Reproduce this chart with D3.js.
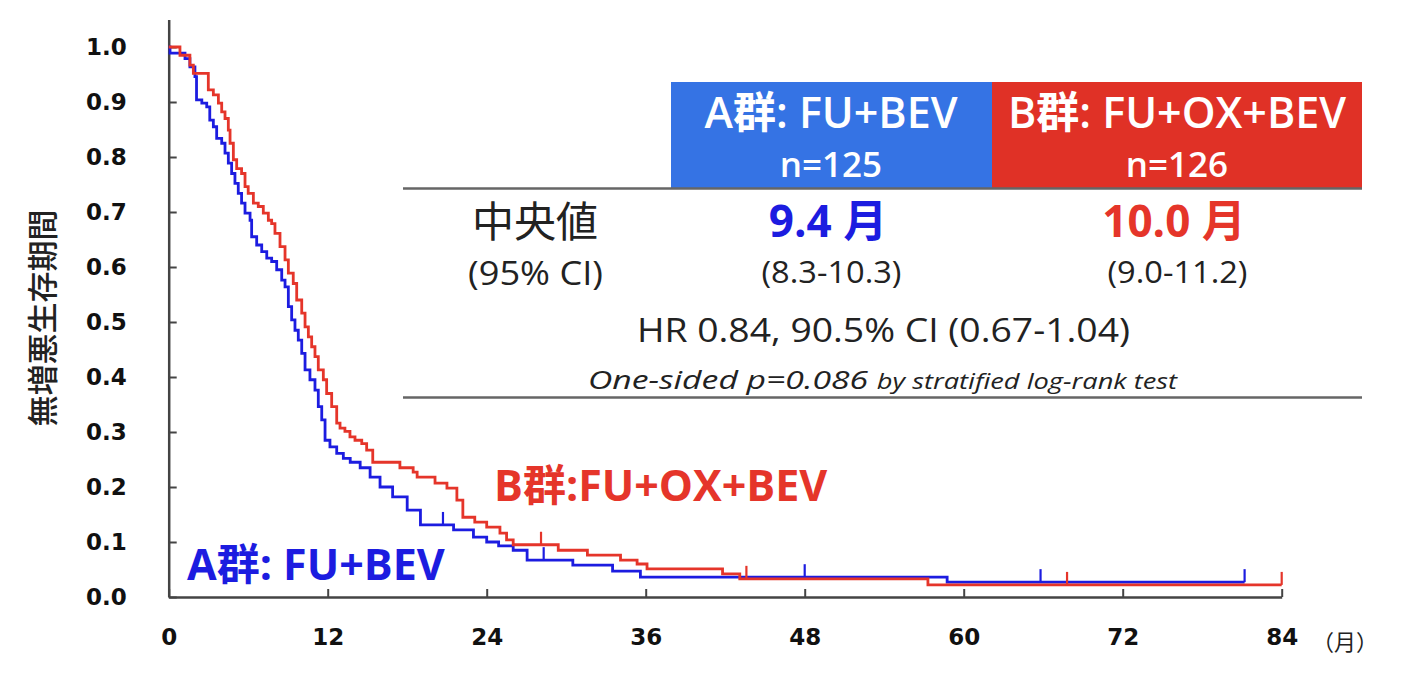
<!DOCTYPE html>
<html>
<head>
<meta charset="utf-8">
<script src="https://cdn.jsdelivr.net/npm/d3@7"></script>
<style>
  body { margin: 0; background: #fff; }
  svg { display: block; }
</style>
</head>
<body>
<svg id="chart" width="1406" height="690"></svg>
<script>
// axis ticks
const months = [0, 12, 24, 36, 48, 60, 72, 84];
const survTicks = [0, 0.1, 0.2, 0.3, 0.4, 0.5, 0.6, 0.7, 0.8, 0.9, 1.0];

// arm A (FU+BEV) - Kaplan-Meier steps
const timeA = [0, 0.1, 1.23, 1.6, 1.98, 2.1, 2.5, 2.87, 3.1, 3.37,
  3.62, 4.0, 4.25, 4.5, 4.75, 5.0, 5.25, 5.5, 5.76, 6.14,
  6.26, 6.64, 7.02, 7.4, 7.77, 8.15, 8.53, 8.78, 9.03, 9.28,
  9.53, 9.78, 10.04, 10.29, 10.66, 11.04, 11.29, 11.55, 11.8, 12.17,
  12.68, 13.18, 13.7, 14.45, 15.2, 15.95, 16.9, 18.0, 19.0, 21.5,
  23.0, 24.0, 24.9, 26.0, 27.05, 30.5, 33.5, 35.6, 58.75, 81.2];
const survA = [1.0, 0.989, 0.979, 0.964, 0.946, 0.904, 0.898, 0.891, 0.867, 0.855,
  0.834, 0.825, 0.807, 0.789, 0.77, 0.752, 0.734, 0.716, 0.698, 0.685,
  0.655, 0.64, 0.628, 0.616, 0.61, 0.595, 0.576, 0.564, 0.528, 0.504,
  0.485, 0.467, 0.443, 0.413, 0.395, 0.376, 0.346, 0.322, 0.285, 0.273,
  0.261, 0.252, 0.245, 0.235, 0.218, 0.2, 0.182, 0.158, 0.131, 0.122,
  0.109, 0.1, 0.093, 0.085, 0.067, 0.058, 0.047, 0.036, 0.027, 0.027];
const censorA = [20.7, 28.3, 48.0, 65.8, 81.2];

// arm B (FU+OX+BEV)
const timeB = [0, 0.85, 1.6, 1.86, 2.99, 3.37, 3.75, 4.0, 4.25, 4.5,
  4.63, 4.88, 5.13, 5.5, 5.76, 6.0, 6.39, 6.76, 7.14, 7.52,
  7.77, 8.02, 8.4, 8.78, 9.03, 9.4, 9.66, 10.04, 10.29, 10.54,
  10.79, 11.04, 11.29, 11.67, 11.92, 12.3, 12.68, 12.93, 13.3, 13.68,
  14.06, 14.57, 14.94, 15.4, 17.45, 18.45, 18.75, 20.1, 21.0, 21.75,
  22.2, 23.1, 24.0, 25.0, 25.5, 26.0, 29.4, 31.6, 34.1, 35.35,
  36.1, 41.8, 43.1, 57.3, 84];
const survB = [1.0, 0.985, 0.967, 0.952, 0.922, 0.913, 0.898, 0.882, 0.87, 0.849,
  0.825, 0.795, 0.779, 0.77, 0.746, 0.734, 0.716, 0.71, 0.698, 0.685,
  0.679, 0.661, 0.637, 0.613, 0.589, 0.57, 0.54, 0.516, 0.491, 0.473,
  0.455, 0.437, 0.413, 0.395, 0.37, 0.346, 0.316, 0.307, 0.301, 0.291,
  0.285, 0.279, 0.267, 0.245, 0.235, 0.227, 0.218, 0.207, 0.198, 0.176,
  0.145, 0.136, 0.127, 0.116, 0.104, 0.095, 0.085, 0.076, 0.067, 0.06,
  0.051, 0.042, 0.033, 0.022, 0.022];
const censorB = [28.1, 43.6, 67.8, 84];

// summary table text
const armHeaders = ["A群: FU+BEV", "B群: FU+OX+BEV"];
const armN = ["n=125", "n=126"];
const medians = ["9.4 月", "10.0 月"];
const medianCI = ["(8.3-10.3)", "(9.0-11.2)"];

const blue = "#1c1ce0";
const red = "#e5352a";
const jp = "'Open Sans', 'Noto Sans CJK JP', sans-serif";

const svg = d3.select("#chart");

const x = d3.scaleLinear([0, 84], [168.7, 1281.7]);
const y = d3.scaleLinear([0, 1.05], [597, 19.5]);

// axes
const yAxis = d3.axisLeft(y).tickValues(survTicks).tickFormat(d3.format(".1f"))
  .tickSize(-8).tickSizeOuter(0).tickPadding(42);
const xAxis = d3.axisBottom(x).tickValues(months).tickFormat(d3.format("d"))
  .tickSize(-8).tickSizeOuter(0).tickPadding(32);

function styleAxis(g) {
  g.select(".domain").attr("stroke", "#444").attr("stroke-width", 2.5);
  g.selectAll(".tick line").attr("stroke", "#444").attr("stroke-width", 2);
  g.selectAll(".tick text")
    .attr("font-family", "'DejaVu Sans', sans-serif")
    .attr("font-weight", "bold")
    .attr("font-size", 23)
    .attr("fill", "#111");
}

svg.append("g").attr("transform", `translate(${x(0)},0)`).call(yAxis).call(styleAxis);
svg.append("g").attr("transform", `translate(0,${y(0)})`).call(xAxis).call(styleAxis);

svg.append("text")
  .attr("transform", `translate(40,318) rotate(-90)`)
  .attr("text-anchor", "middle")
  .attr("dominant-baseline", "central")
  .attr("font-family", "'Noto Sans CJK JP', sans-serif")
  .attr("font-weight", 500)
  .attr("font-size", 31)
  .attr("fill", "#222")
  .text("無増悪生存期間");

svg.append("text")
  .attr("x", 1312).attr("y", 650)
  .attr("font-family", "'Noto Sans CJK JP', sans-serif")
  .attr("font-size", 22)
  .attr("fill", "#222")
  .text("（月）");

// KM curves
const line = d3.line().x(d => x(d[0])).y(d => y(d[1])).curve(d3.curveStepAfter);

function stepValue(times, surv, t) {
  const i = d3.bisectRight(times, t) - 1;
  return surv[Math.max(0, i)];
}

function drawArm(times, surv, censors, color) {
  const pts = times.map((t, i) => [t, surv[i]]);
  svg.append("path")
    .datum(pts)
    .attr("fill", "none")
    .attr("stroke", color)
    .attr("stroke-width", 2.8)
    .attr("d", line);
  svg.append("g")
    .selectAll("line")
    .data(censors)
    .join("line")
    .attr("x1", d => x(d)).attr("x2", d => x(d))
    .attr("y1", d => y(stepValue(times, surv, d)))
    .attr("y2", d => y(stepValue(times, surv, d)) - 13)
    .attr("stroke", color)
    .attr("stroke-width", 2.2);
}

drawArm(timeA, survA, censorA, blue);
drawArm(timeB, survB, censorB, red);

// in-plot labels
svg.append("text")
  .attr("x", 494).attr("y", 501)
  .attr("font-family", jp).attr("font-weight", 700).attr("font-size", 43)
  .attr("fill", red)
  .text("B群:FU+OX+BEV");

svg.append("text")
  .attr("x", 187).attr("y", 580)
  .attr("font-family", jp).attr("font-weight", 700).attr("font-size", 43)
  .attr("fill", blue)
  .text("A群: FU+BEV");

// summary table
const colX = d3.scaleOrdinal([0, 1], [831, 1177]);
const colEdges = [[671, 992], [992, 1362]];
const fills = ["#3573e4", "#e03126"];
const valueColors = [blue, red];

const table = svg.append("g");

table.selectAll("rect")
  .data(colEdges)
  .join("rect")
  .attr("x", d => d[0]).attr("y", 82)
  .attr("width", d => d[1] - d[0]).attr("height", 106)
  .attr("fill", (d, i) => fills[i]);

table.append("line")
  .attr("x1", 403).attr("x2", 1362).attr("y1", 188.5).attr("y2", 188.5)
  .attr("stroke", "#666").attr("stroke-width", 2.5);
table.append("line")
  .attr("x1", 403).attr("x2", 1362).attr("y1", 397.5).attr("y2", 397.5)
  .attr("stroke", "#666").attr("stroke-width", 2.5);

const cols = [0, 1];

table.selectAll("text.hdr")
  .data(cols).join("text").attr("class", "hdr")
  .attr("x", d => colX(d)).attr("y", 128)
  .attr("text-anchor", "middle")
  .attr("font-family", jp).attr("font-weight", 600).attr("font-size", 43)
  .attr("fill", "#fff")
  .text(d => armHeaders[d]);

table.selectAll("text.n")
  .data(cols).join("text").attr("class", "n")
  .attr("x", d => colX(d)).attr("y", 177)
  .attr("text-anchor", "middle")
  .attr("font-family", jp).attr("font-weight", 600).attr("font-size", 35)
  .attr("fill", "#fff")
  .text(d => armN[d]);

table.selectAll("text.med")
  .data(cols).join("text").attr("class", "med")
  .attr("x", d => colX(d) - 3).attr("y", 237)
  .attr("text-anchor", "middle")
  .attr("font-family", jp).attr("font-weight", 700).attr("font-size", 44)
  .attr("fill", d => valueColors[d])
  .text(d => medians[d]);

table.selectAll("text.ci")
  .data(cols).join("text").attr("class", "ci")
  .attr("x", d => colX(d) + 0.5).attr("y", 283)
  .attr("text-anchor", "middle")
  .attr("font-family", jp).attr("font-size", 31)
  .attr("textLength", 140).attr("lengthAdjust", "spacingAndGlyphs")
  .attr("fill", "#222")
  .text(d => medianCI[d]);

table.append("text")
  .attr("x", 535).attr("y", 237)
  .attr("text-anchor", "middle")
  .attr("font-family", "'Noto Sans CJK JP', sans-serif").attr("font-size", 42)
  .attr("fill", "#222")
  .text("中央値");

table.append("text")
  .attr("x", 535.5).attr("y", 285)
  .attr("text-anchor", "middle")
  .attr("font-family", jp).attr("font-size", 33)
  .attr("textLength", 135).attr("lengthAdjust", "spacingAndGlyphs")
  .attr("fill", "#222")
  .text("(95% CI)");

table.append("text")
  .attr("x", 883.5).attr("y", 342)
  .attr("text-anchor", "middle")
  .attr("font-family", jp).attr("font-size", 32)
  .attr("textLength", 493).attr("lengthAdjust", "spacingAndGlyphs")
  .attr("fill", "#222")
  .text("HR 0.84, 90.5% CI (0.67-1.04)");

const pText = table.append("text")
  .attr("x", 882.5).attr("y", 389)
  .attr("text-anchor", "middle")
  .attr("font-family", jp).attr("font-style", "italic")
  .attr("textLength", 589).attr("lengthAdjust", "spacingAndGlyphs")
  .attr("fill", "#222");
pText.append("tspan").attr("font-size", 26).text("One-sided p=0.086 ");
pText.append("tspan").attr("font-size", 21).text("by stratified log-rank test");
</script>
</body>
</html>
